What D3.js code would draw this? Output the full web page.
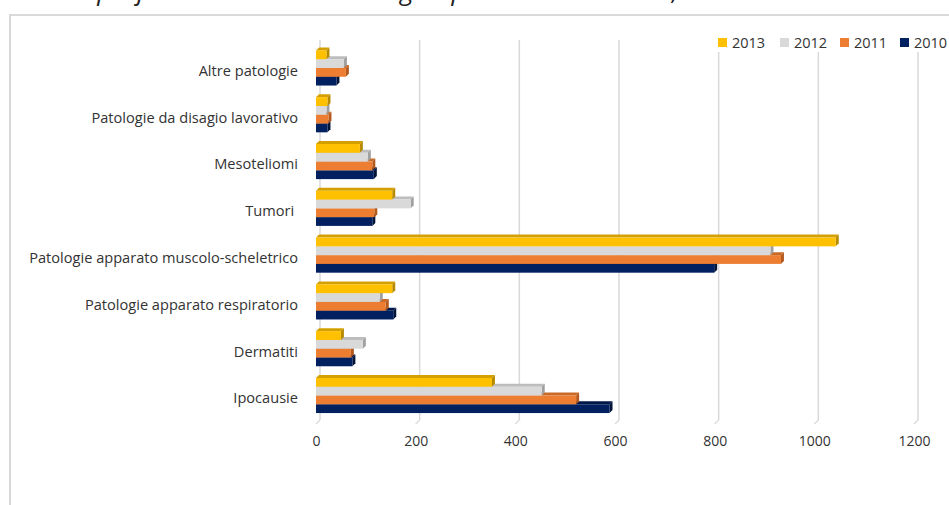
<!DOCTYPE html>
<html>
<head>
<meta charset="utf-8">
<script src="https://cdn.jsdelivr.net/npm/d3@7/dist/d3.min.js"></script>
<style>
  html, body { margin: 0; padding: 0; background: #ffffff; }
  svg { display: block; }
  text { font-family: "Open Sans", "Noto Sans", sans-serif; }
</style>
</head>
<body>
<svg id="chart" width="949" height="505"></svg>
<script>
// Occupational diseases by category, 2010–2013
const categories = [
  "Altre patologie",
  "Patologie da disagio lavorativo",
  "Mesoteliomi",
  "Tumori ",
  "Patologie apparato muscolo-scheletrico",
  "Patologie apparato respiratorio",
  "Dermatiti",
  "Ipocausie"
];
const years = ["2013", "2012", "2011", "2010"];
const v2013 = [21, 23, 88, 153, 1043, 153, 50, 353];
const v2012 = [56, 21, 104, 190, 912, 128, 94, 453];
const v2011 = [60, 25, 113, 117, 933, 140, 70, 522];
const v2010 = [41, 23, 116, 113, 799, 155, 73, 589];
const xTicks = [0, 200, 400, 600, 800, 1000, 1200];
const titleText = "Malattie professionali denunciate agli ispettorati del lavoro, anni 2010 - 2013";

const seriesValues = { "2013": v2013, "2012": v2012, "2011": v2011, "2010": v2010 };
const frontColor = { "2013": "#FFC000", "2012": "#D9D9D9", "2011": "#ED7D31", "2010": "#002060" };
const sideColor  = { "2013": "#B88A00", "2012": "#A0A0A0", "2011": "#B35A1E", "2010": "#001338" };
const topColor   = { "2013": "#D4A000", "2012": "#BDBDBD", "2011": "#C96A28", "2010": "#00184A" };

const svg = d3.select("#chart");
const depth = 3;

// Title line, running off the top of the page
svg.append("text")
  .attr("x", -4).attr("y", 0)
  .attr("font-size", 26)
  .attr("font-style", "italic")
  .attr("fill", "#222")
  .text(titleText);

// Chart frame
svg.append("rect")
  .attr("x", 10).attr("y", 15)
  .attr("width", 1000).attr("height", 600)
  .attr("fill", "none")
  .attr("stroke", "#d9d9d9")
  .attr("stroke-width", 2);

const x = d3.scaleLinear().domain([0, 1200]).range([316, 914]);
const y = d3.scaleBand().domain(categories).range([44.6, 418.9])
  .paddingInner(0.25).paddingOuter(0.125);
const yInner = d3.scaleBand().domain(years).range([0, y.bandwidth()]);

// Back-wall gridlines with a short floor edge
const grid = svg.append("g");
xTicks.forEach(t => {
  grid.append("line")
    .attr("x1", x(t) + 4).attr("x2", x(t) + 4)
    .attr("y1", 40).attr("y2", 420)
    .attr("stroke", "#d9d9d9").attr("stroke-width", 1.5);
  grid.append("line")
    .attr("x1", x(t) + 4).attr("x2", x(t))
    .attr("y1", 420).attr("y2", 424)
    .attr("stroke", "#d9d9d9").attr("stroke-width", 1.2);
});

// Bars: drawn bottom series first so upper bars overlap correctly
const drawOrder = years.slice().reverse();
const bars = svg.append("g");
categories.forEach((c, i) => {
  drawOrder.forEach(yr => {
    const v = seriesValues[yr][i];
    const x0 = x(0), x1 = x(v);
    const y0 = y(c) + yInner(yr), h = yInner.bandwidth();
    const g = bars.append("g");
    g.append("path")
      .attr("d", `M${x0},${y0} L${x0 + depth},${y0 - depth} L${x1 + depth},${y0 - depth} L${x1},${y0} Z`)
      .attr("fill", topColor[yr]);
    g.append("path")
      .attr("d", `M${x1},${y0} L${x1 + depth},${y0 - depth} L${x1 + depth},${y0 + h - depth} L${x1},${y0 + h} Z`)
      .attr("fill", sideColor[yr]);
    g.append("rect")
      .attr("x", x0).attr("y", y0)
      .attr("width", x1 - x0).attr("height", h)
      .attr("fill", frontColor[yr]);
  });
});

// Category labels
svg.append("g").selectAll("text")
  .data(categories).join("text")
  .attr("x", 298)
  .attr("y", d => y(d) + y.bandwidth() / 2 + 4)
  .attr("text-anchor", "end")
  .attr("dominant-baseline", "middle")
  .attr("font-size", 14.6)
  .attr("fill", "#333333")
  .style("white-space", "pre")
  .text(d => d);

// Value axis
const axis = svg.append("g")
  .attr("transform", "translate(0,436)")
  .call(d3.axisBottom(x).tickValues(xTicks).tickSize(0).tickPadding(0).tickFormat(d3.format("d")));
axis.select(".domain").remove();
axis.selectAll("text")
  .attr("font-size", 14)
  .attr("fill", "#333333")
  .attr("font-family", "'Open Sans', sans-serif");

// Legend
const legend = svg.append("g");
legend.append("rect")
  .attr("x", 712).attr("y", 30).attr("width", 240).attr("height", 22)
  .attr("fill", "#ffffff");
const legendX = [718, 780, 840, 900];
years.forEach((yr, i) => {
  legend.append("rect")
    .attr("x", legendX[i]).attr("y", 38)
    .attr("width", 9).attr("height", 9)
    .attr("fill", frontColor[yr]);
  legend.append("text")
    .attr("x", legendX[i] + 14).attr("y", 48)
    .attr("font-size", 14.5)
    .attr("fill", "#333333")
    .text(yr);
});
</script>
</body>
</html>
